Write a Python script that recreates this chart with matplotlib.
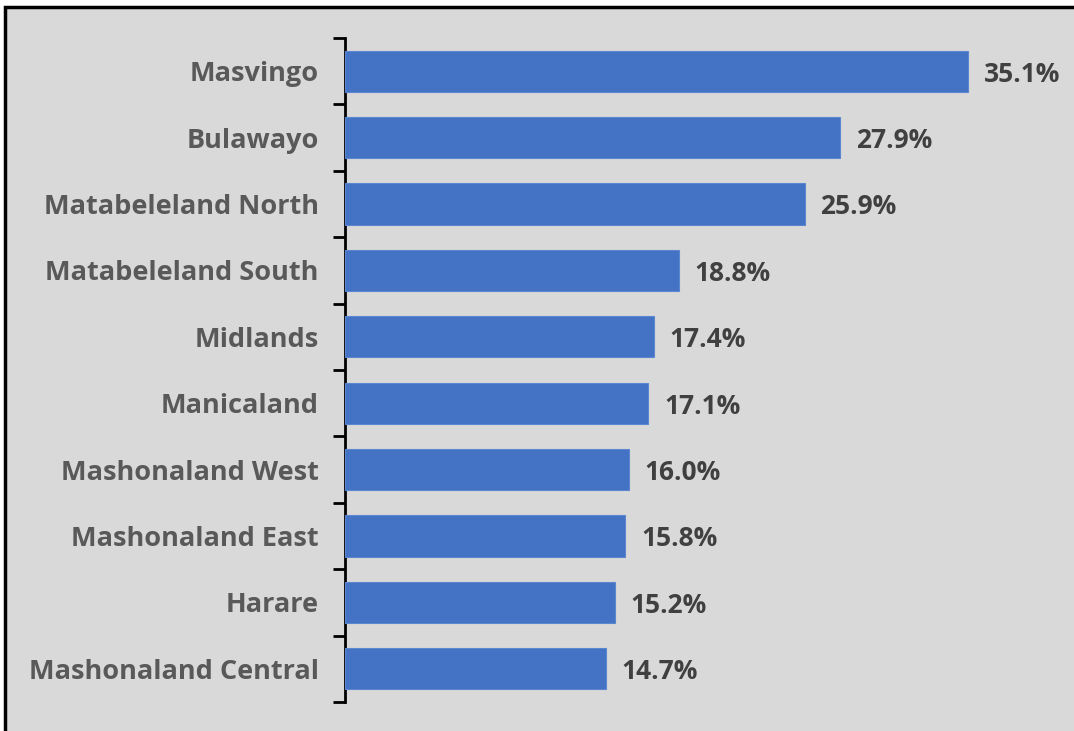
import numpy as np
import matplotlib.pyplot as plt
from matplotlib.patches import Rectangle

# ── Data ───────────────────────────────────────────────────────
regions = ["Masvingo", "Bulawayo", "Matabeleland North", "Matabeleland South",
           "Midlands", "Manicaland", "Mashonaland West", "Mashonaland East",
           "Harare", "Mashonaland Central"]
values = [35.1, 27.9, 25.9, 18.8, 17.4, 17.1, 16.0, 15.8, 15.2, 14.7]

bar_color = "#4472C4"
bg_color = "#D9D9D9"
label_color = "#595959"
value_color = "#404040"
font = "Open Sans"

W, H = 1074, 731
fig = plt.figure(figsize=(W / 100, H / 100), dpi=100)
fig.patch.set_facecolor("white")

# grey panel with black edge (top / left visible)
fig.add_artist(Rectangle((5 / W, -0.05), 1.2, 1.05 - 7 / H,
                         transform=fig.transFigure, facecolor=bg_color,
                         edgecolor="black", linewidth=2.5, zorder=0))

ax = fig.add_axes([345 / W, 1 - 702 / H, (1060 - 345) / W, (702 - 38) / H])
ax.set_facecolor("none")

y = np.arange(len(regions))
ax.barh(y, values, height=0.62, color=bar_color, edgecolor="#5B86D0",
        linewidth=0.8, zorder=3)
ax.set_ylim(len(regions) - 0.5, -0.5)
ax.set_xlim(0, 40.3)

for yi, v in zip(y, values):
    ax.text(v + 0.9, yi, f"{v:.1f}%", va="center_baseline", ha="left",
            fontsize=19, fontweight="bold", color=value_color,
            family=font)

# category labels, ticks between categories
ax.set_yticks(y)
ax.set_yticklabels(regions, fontsize=19.5, fontweight="bold",
                   color=label_color, family=font, va="center_baseline")
ax.tick_params(axis="y", which="major", length=0, pad=19)
ax.set_yticks(np.arange(-0.5, len(regions)), minor=True)
ax.tick_params(axis="y", which="minor", length=9, width=2, color="black",
               direction="out")

ax.set_xticks([])
for side in ["top", "right", "bottom"]:
    ax.spines[side].set_visible(False)
ax.spines["left"].set_linewidth(2)
ax.spines["left"].set_color("black")

fig.savefig("out.png", dpi=100)
